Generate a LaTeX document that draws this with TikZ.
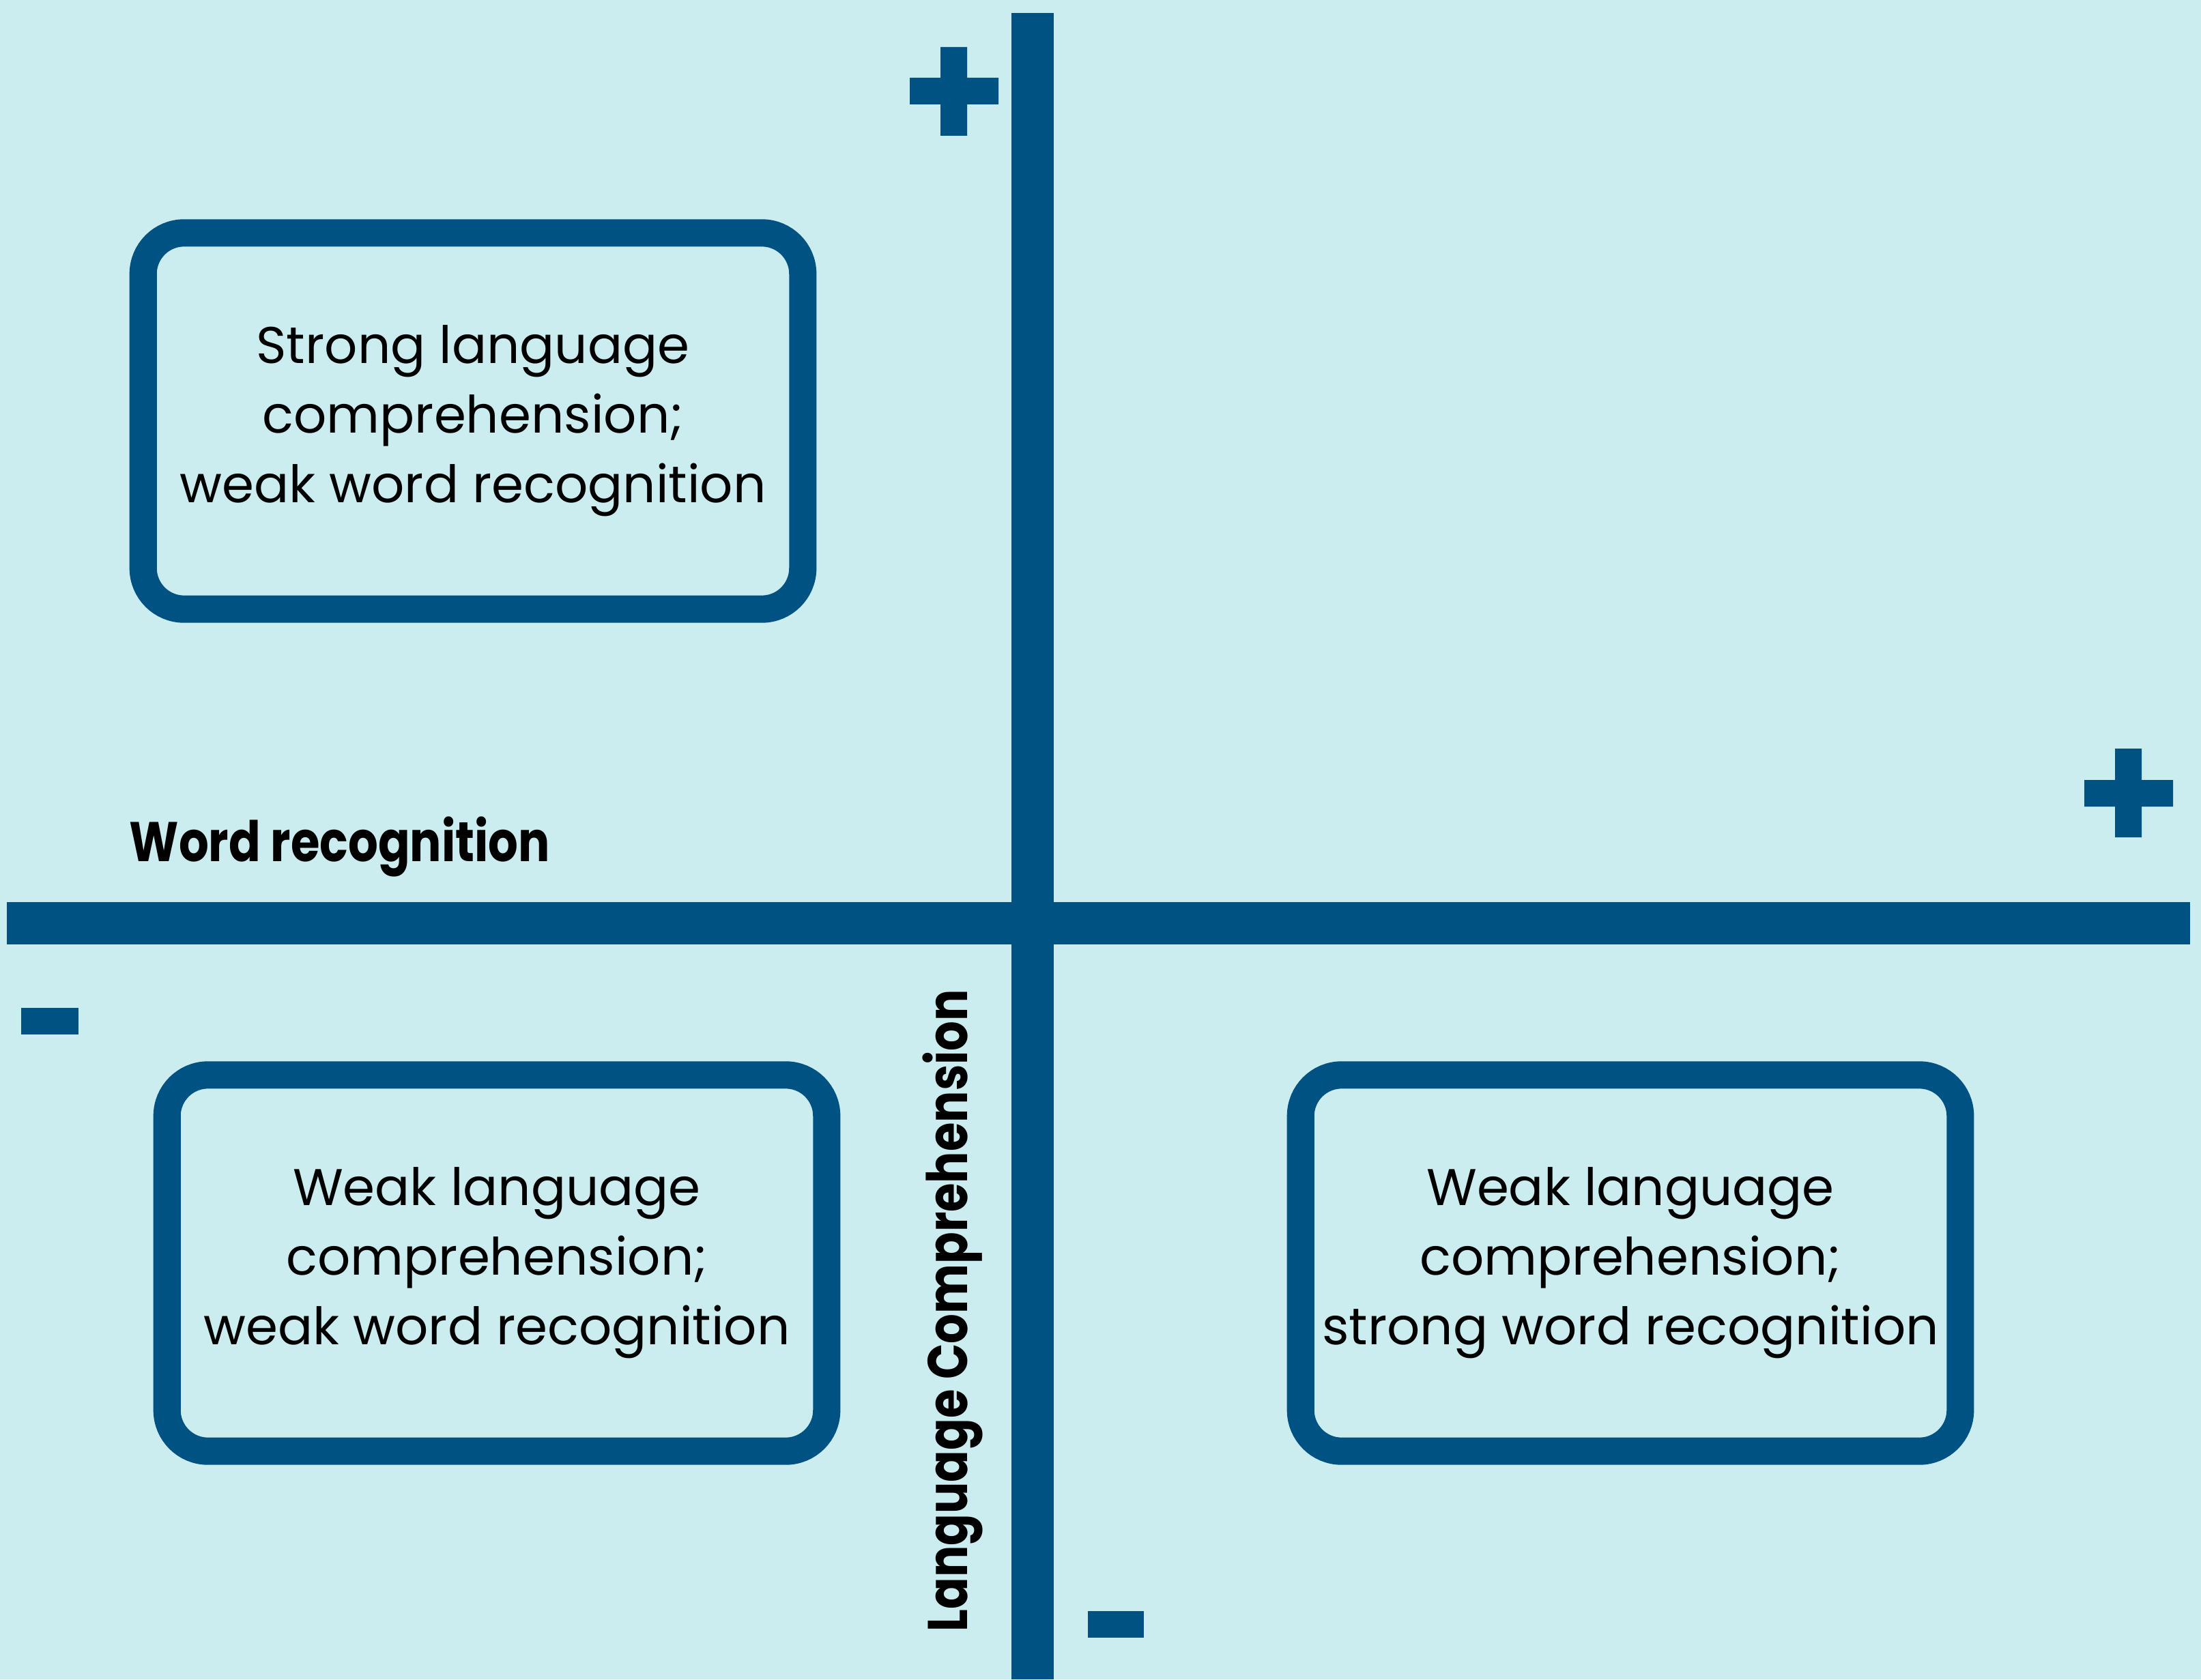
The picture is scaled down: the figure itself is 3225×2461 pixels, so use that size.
\documentclass[tikz,border=0pt]{standalone}
\usepackage{fontspec}
\setmainfont{Poppins}
\newfontfamily\axisfont[FakeStretch=0.84]{Poppins}
\usetikzlibrary{positioning}
\definecolor{paleblue}{RGB}{203,237,240}
\definecolor{deepblue}{RGB}{0,82,130}

\begin{document}
\begin{tikzpicture}[x=0.01cm, y=-0.01cm,
  quadbox/.style={draw=deepblue, line width=11.4pt, rounded corners=0.6cm,
    minimum width=9.66cm, minimum height=5.51cm, inner sep=0pt, align=center,
    font=\fontsize{21.5}{29}\selectfont, execute at begin node={\rule{0pt}{21.5pt}}},
  axislabel/.style={font=\axisfont\bfseries\fontsize{23.3}{26}\selectfont, inner sep=0pt},
  bar/.style={fill=deepblue}]
\fill[paleblue] (0,0) rectangle (3225,2461);
\useasboundingbox (0,0) rectangle (3225,2461);
% axes
\fill[bar] (1482,19) rectangle (1544,2461);
\fill[bar] (10,1322) rectangle (3209,1384);
% plus and minus signs
\fill[bar] (1333,114) rectangle (1463,153) (1378,69) rectangle (1417,199);
\fill[bar] (3054,1143) rectangle (3184,1182) (3099,1097) rectangle (3138,1227);
\fill[bar] (31,1477) rectangle (115,1516);
\fill[bar] (1594,2361) rectangle (1676,2400);
% axis labels
\node[axislabel, anchor=base west] (wordrec) at (189,1262) {Word recognition};
\node[axislabel, anchor=base west, rotate=90] (langcomp) at (1417,2392) {Language Comprehension};
% quadrants
\node[quadbox] (strongweak) at (693,617) {Strong language\\comprehension;\\weak word recognition};
\node[quadbox] (weakweak) at (728,1851) {Weak language\\comprehension;\\weak word recognition};
\node[quadbox] (weakstrong) at (2389,1851) {Weak language\\comprehension;\\strong word recognition};
\end{tikzpicture}
\end{document}
